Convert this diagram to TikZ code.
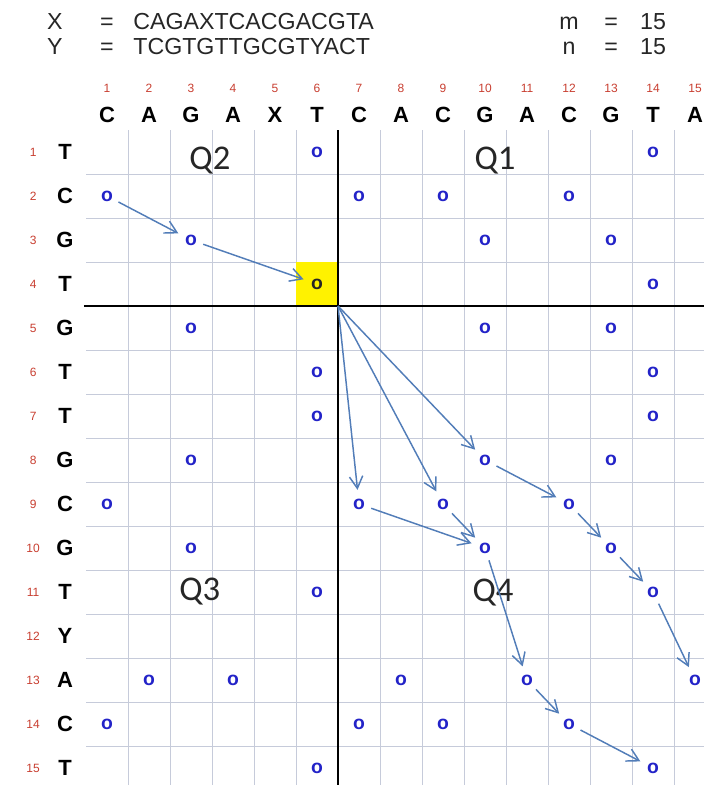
\documentclass[tikz,border=0pt]{standalone}
\usepackage{fontspec}
\setmainfont{Liberation Sans}
\newfontfamily\qfont{Carlito}
\usepackage{xcolor}
\usepackage{tikz}
\usetikzlibrary{arrows.meta}
\definecolor{gridline}{RGB}{198,203,218}
\definecolor{idxred}{RGB}{200,62,48}
\definecolor{matchblue}{RGB}{35,35,200}
\definecolor{pathblue}{RGB}{82,125,184}

\begin{document}
\begin{tikzpicture}[x=31.5pt,y=-33pt,
  idx/.style={text=idxred,inner sep=0pt,font=\fontsize{9}{9}\selectfont},
  base/.style={inner sep=0pt,font=\fontsize{16.5}{16.5}\selectfont\bfseries},
  hdr/.style={inner sep=0pt,anchor=base,text=black!85,font=\fontsize{17.4}{17.4}\selectfont},
  hit/.style={circle,inner sep=0pt,minimum size=19pt,text=matchblue,font=\fontsize{14.5}{14.5}\selectfont\bfseries},
  quad/.style={text=black!85,inner sep=0pt,font=\qfont\fontsize{26}{26}\selectfont},
  link/.style={pathblue,line width=1.1pt,-{Straight Barb[length=9pt,width=10pt]},shorten >=1pt}]
\useasboundingbox (-1.548,-2.4545) rectangle (15.214,15.386);

\node[hdr] (xname) at (-0.24,-1.773) {X};
\node[hdr] (xeq) at (1,-1.773) {=};
\node[hdr,anchor=base west] (xseq) at (1.62,-1.773) {CAGAXTCACGACGTA};
\node[hdr] (yname) at (-0.24,-1.227) {Y};
\node[hdr] (yeq) at (1,-1.227) {=};
\node[hdr,anchor=base west] (yseq) at (1.62,-1.227) {TCGTGTTGCGTYACT};
\node[hdr] (mname) at (12,-1.773) {m};
\node[hdr] (meq) at (13,-1.773) {=};
\node[hdr] (mval) at (14,-1.773) {15};
\node[hdr] (nname) at (12,-1.227) {n};
\node[hdr] (neq) at (13,-1.227) {=};
\node[hdr] (nval) at (14,-1.227) {15};

\foreach \b [count=\c] in {C,A,G,A,X,T,C,A,C,G,A,C,G,T,A} {
    \node[idx] (ci-\c) at (\c,-0.455) {\c};
    \node[base] (cb-\c) at (\c,0.16) {\b};
}
\foreach \b [count=\r] in {T,C,G,T,G,T,T,G,C,G,T,Y,A,C,T} {
    \node[idx] (ri-\r) at (-0.76,\r) {\r};
    \node[base] (rb-\r) at (0,\r) {\b};
}

\foreach \c in {1.5,2.5,...,14.5} {
    \draw[gridline] (\c,0.5) -- (\c,15.386);
}
\foreach \r in {1.5,2.5,...,14.5} {
    \draw[gridline] (0.5,\r) -- (15.214,\r);
}
\fill[yellow] (5.5,3.5) rectangle (6.5,4.5);
\draw[line width=1.5pt] (6.5,0.5) -- (6.5,15.386);
\draw[line width=1.5pt] (0.45,4.5) -- (15.214,4.5);
\coordinate (pivot) at (6.5,4.5);

\foreach \r/\cols in {1/{6,14},2/{1,7,9,12},3/{3,10,13},4/{14},5/{3,10,13},
    6/{6,14},7/{6,14},8/{3,10,13},9/{1,7,9,12},10/{3,10,13},11/{6,14},
    13/{2,4,8,11,15},14/{1,7,9,12},15/{6,14}} {
    \foreach \c in \cols {
        \node[hit] (m-\r-\c) at (\c,\r) {o};
    }
}
\node[hit,text=black!85] (m-4-6) at (6,4) {o};

\node[quad] (q1) at (10.24,1.2) {Q1};
\node[quad] (q2) at (3.45,1.2) {Q2};
\node[quad] (q3) at (3.21,11.0) {Q3};
\node[quad] (q4) at (10.19,11.02) {Q4};

\foreach \a/\b in {m-2-1/m-3-3,m-3-3/m-4-6,pivot/m-9-7,pivot/m-9-9,pivot/m-8-10,
    m-8-10/m-9-12,m-9-7/m-10-10,m-9-9/m-10-10,m-9-12/m-10-13,m-10-13/m-11-14,
    m-11-14/m-13-15,m-10-10/m-13-11,m-13-11/m-14-12,m-14-12/m-15-14} {
    \draw[link] (\a) -- (\b);
}
\end{tikzpicture}
\end{document}
